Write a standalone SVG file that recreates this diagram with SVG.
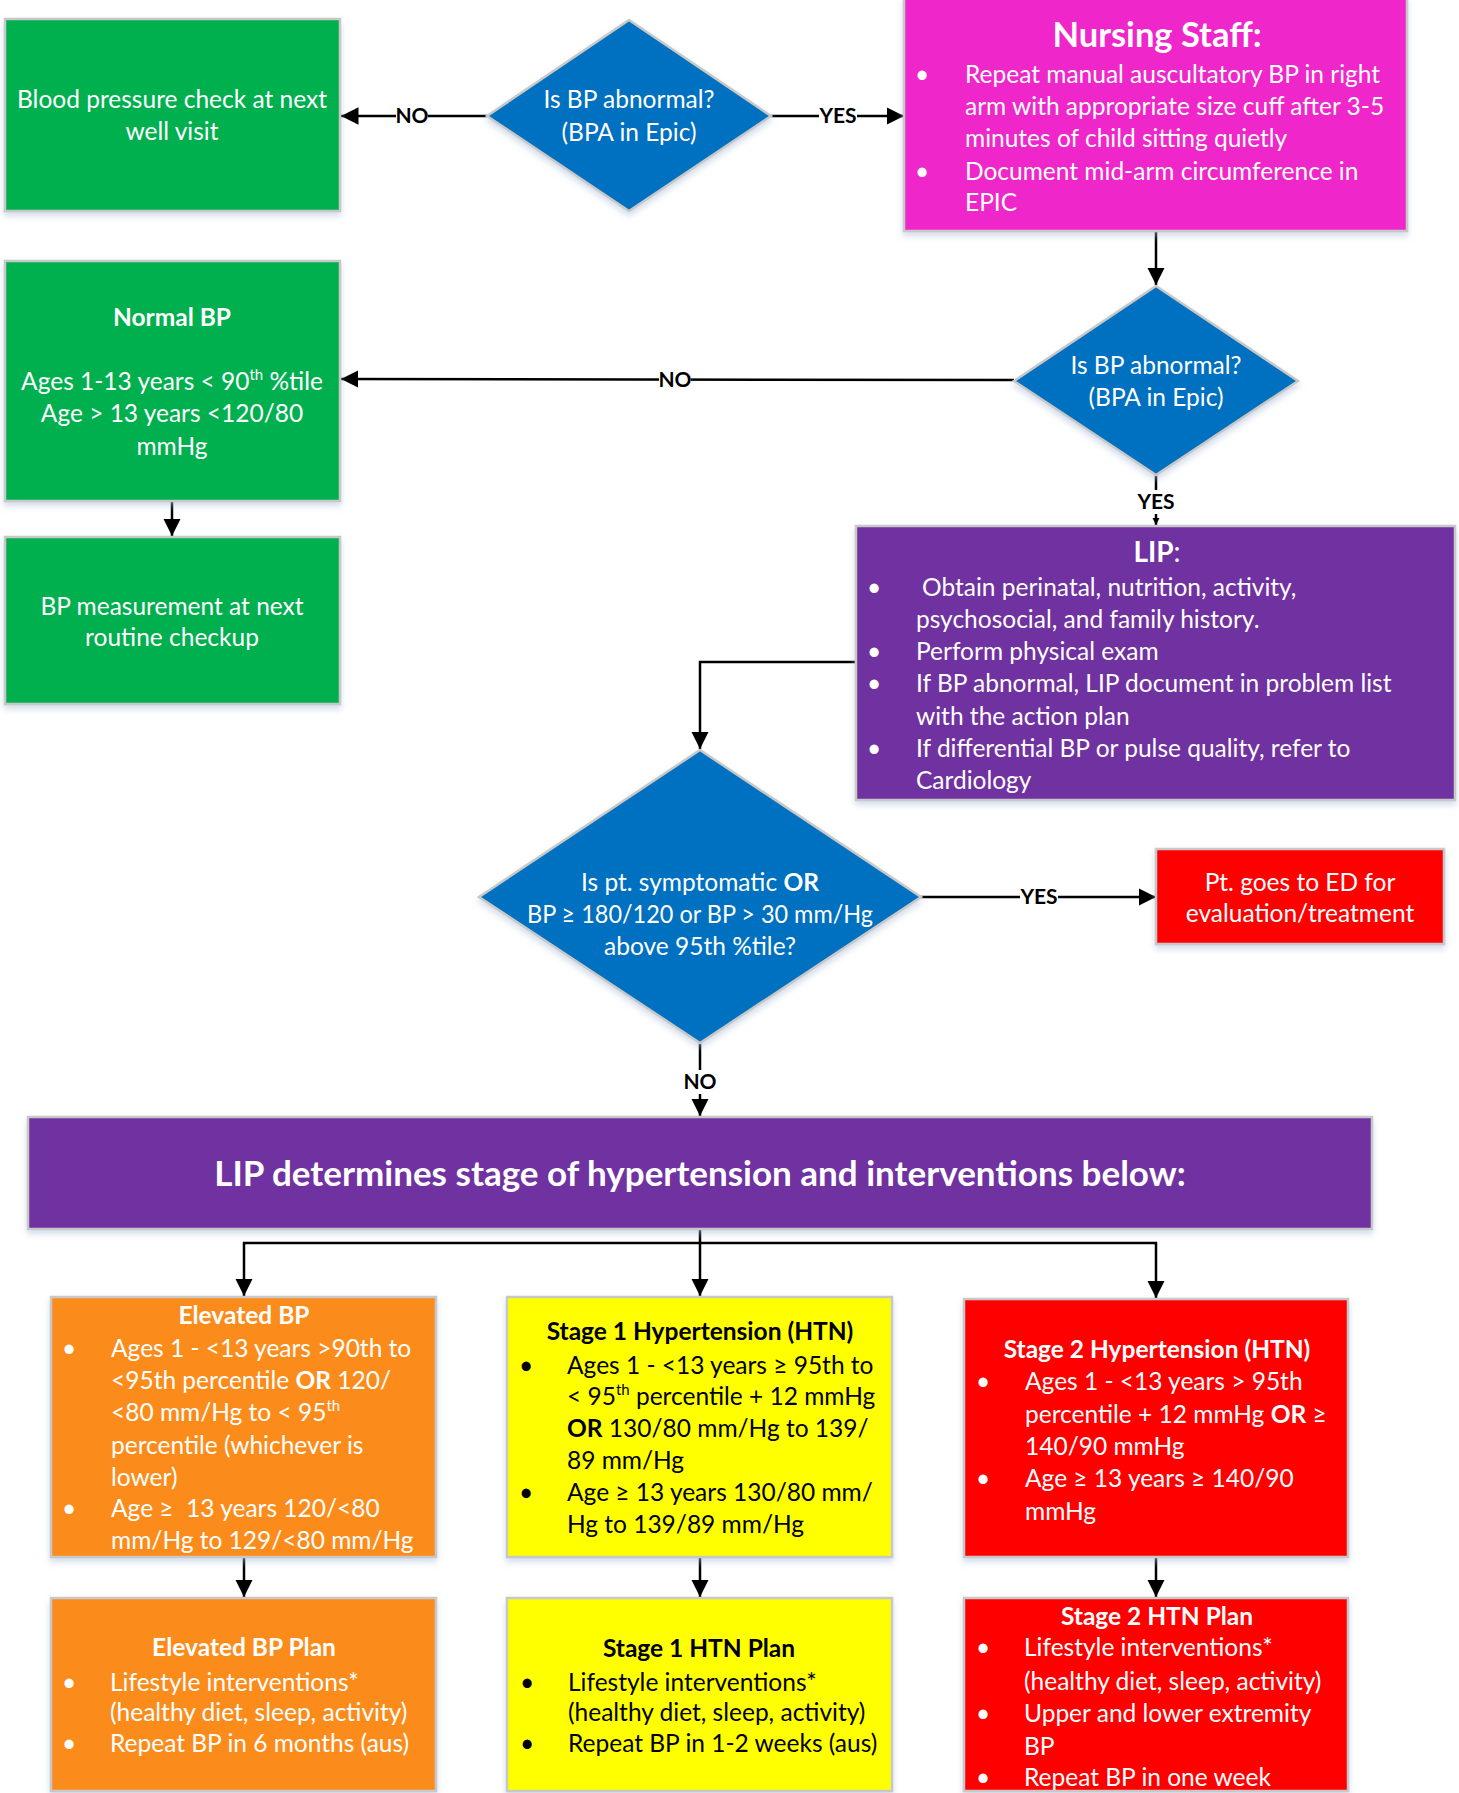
<svg xmlns="http://www.w3.org/2000/svg" width="1459" height="1793" viewBox="0 0 1459 1793">
<defs>
<style>
.t{font-family:Lato,"Liberation Sans",sans-serif;font-size:24.5px;fill:#fff}
.b{font-weight:bold}
.k{fill:#000}
.c{text-anchor:middle}
.sup{font-size:15px}
.big{font-size:34.5px}
.ban{font-size:35px}
.lipt{font-size:28px}
.lbl{font-family:Lato,"Liberation Sans",sans-serif;font-weight:bold;font-size:21px;fill:#000;text-anchor:middle}
.box{stroke:#c8c8c8;stroke-width:2.5;filter:url(#sh)}
.ln{stroke:#000;stroke-width:2.5;fill:none}
.bg{fill:#fff}
</style>
<filter id="sh" x="-5%" y="-5%" width="110%" height="115%">
<feDropShadow dx="0" dy="4" stdDeviation="3" flood-color="#a9bcd8" flood-opacity="0.5"/>
</filter>
<marker id="ah" viewBox="0 0 10 10" refX="10" refY="5" markerWidth="7" markerHeight="7" markerUnits="strokeWidth" orient="auto">
<path d="M0,0 L10,5 L0,10 z" fill="#000"/>
</marker>
<marker id="ahs" viewBox="0 0 10 10" refX="10" refY="5" markerWidth="3" markerHeight="3" markerUnits="strokeWidth" orient="auto">
<path d="M0,0 L10,5 L0,10 z" fill="#000"/>
</marker>
</defs>
<rect width="1459" height="1793" fill="#fff"/>

<g id="connectors">
<line class="ln" x1="487" y1="116" x2="341" y2="116" marker-end="url(#ah)"/>
<line class="ln" x1="771" y1="116" x2="904" y2="116" marker-end="url(#ah)"/>
<line class="ln" x1="1156" y1="231" x2="1156" y2="285" marker-end="url(#ah)"/>
<line class="ln" x1="1014" y1="380" x2="341" y2="379" marker-end="url(#ah)"/>
<line class="ln" x1="172" y1="501" x2="172" y2="536" marker-end="url(#ah)"/>
<line class="ln" x1="1156" y1="475" x2="1156" y2="525" marker-end="url(#ahs)"/>
<polyline class="ln" points="856,662 700,662 700,749" marker-end="url(#ah)"/>
<line class="ln" x1="921" y1="897" x2="1156" y2="897" marker-end="url(#ah)"/>
<line class="ln" x1="700" y1="1043" x2="700" y2="1116" marker-end="url(#ah)"/>
<line class="ln" x1="700" y1="1229" x2="700" y2="1296" marker-end="url(#ah)"/>
<polyline class="ln" points="700,1243 244,1243 244,1296" marker-end="url(#ah)"/>
<polyline class="ln" points="700,1243 1156,1243 1156,1298" marker-end="url(#ah)"/>
<line class="ln" x1="244" y1="1557" x2="244" y2="1597" marker-end="url(#ah)"/>
<line class="ln" x1="700" y1="1557" x2="700" y2="1597" marker-end="url(#ah)"/>
<line class="ln" x1="1156" y1="1558" x2="1156" y2="1597" marker-end="url(#ah)"/>
<rect class="bg" x="396" y="104" width="32" height="22"/>
<text class="lbl" x="412" y="123">NO</text>
<rect class="bg" x="819" y="104" width="38" height="22"/>
<text class="lbl" x="838" y="123">YES</text>
<rect class="bg" x="659" y="368" width="32" height="22"/>
<text class="lbl" x="675" y="387">NO</text>
<rect class="bg" x="1137" y="490" width="38" height="24"/>
<text class="lbl" x="1156" y="509">YES</text>
<rect class="bg" x="1020" y="885" width="38" height="22"/>
<text class="lbl" x="1039" y="904">YES</text>
<rect class="bg" x="684" y="1070" width="32" height="24"/>
<text class="lbl" x="700" y="1089">NO</text>
</g>

<g id="n-well">
<rect class="box" x="5" y="19" width="335" height="192" fill="#00B050"/>
<text class="t c" x="172" y="108">Blood pressure check at next</text>
<text class="t c" x="172" y="140">well visit</text>
</g>

<g id="n-dec1">
<polygon class="box" points="629,20 771,116 629,211 487,116" fill="#0070C0"/>
<text class="t c" x="629" y="108">Is BP abnormal?</text>
<text class="t c" x="629" y="141">(BPA in Epic)</text>
</g>

<g id="n-nursing">
<rect class="box" x="904" y="-2" width="503" height="233" fill="#EF27C9"/>
<text class="t b c big" x="1157" y="47">Nursing Staff:</text>
<text class="t" x="915" y="83">•</text>
<text class="t" x="965" y="83">Repeat manual auscultatory BP in right</text>
<text class="t" x="965" y="115">arm with appropriate size cuff after 3-5</text>
<text class="t" x="965" y="147">minutes of child sitting quietly</text>
<text class="t" x="915" y="180">•</text>
<text class="t" x="965" y="180">Document mid-arm circumference in</text>
<text class="t" x="965" y="211">EPIC</text>
</g>

<g id="n-dec2">
<polygon class="box" points="1156,286 1298,381 1156,475 1014,381" fill="#0070C0"/>
<text class="t c" x="1156" y="374">Is BP abnormal?</text>
<text class="t c" x="1156" y="406">(BPA in Epic)</text>
</g>

<g id="n-normal">
<rect class="box" x="5" y="261" width="335" height="240" fill="#00B050"/>
<text class="t b c" x="172" y="326">Normal BP</text>
<text class="t c" x="172" y="390">Ages 1-13 years &lt; 90<tspan class="sup" dy="-10">th</tspan><tspan dy="10"> %tile</tspan></text>
<text class="t c" x="172" y="422">Age &gt; 13 years &lt;120/80</text>
<text class="t c" x="172" y="455">mmHg</text>
</g>

<g id="n-routine">
<rect class="box" x="5" y="537" width="335" height="167" fill="#00B050"/>
<text class="t c" x="172" y="615">BP measurement at next</text>
<text class="t c" x="172" y="646">routine checkup</text>
</g>

<g id="n-lip">
<rect class="box" x="856" y="526" width="599" height="274" fill="#7030A0"/>
<text class="t c lipt" x="1157" y="562"><tspan font-weight="bold">LIP</tspan>:</text>
<text class="t" x="867" y="596">•</text>
<text class="t" x="922" y="596">Obtain perinatal, nutrition, activity,</text>
<text class="t" x="916" y="628">psychosocial, and family history.</text>
<text class="t" x="867" y="660">•</text>
<text class="t" x="916" y="660">Perform physical exam</text>
<text class="t" x="867" y="692">•</text>
<text class="t" x="916" y="692">If BP abnormal, LIP document in problem list</text>
<text class="t" x="916" y="725">with the action plan</text>
<text class="t" x="867" y="757">•</text>
<text class="t" x="916" y="757">If differential BP or pulse quality, refer to</text>
<text class="t" x="916" y="789">Cardiology</text>
</g>

<g id="n-dec3">
<polygon class="box" points="700,750 921,897 700,1043 479,897" fill="#0070C0"/>
<text class="t c" x="700" y="891">Is pt. symptomatic <tspan font-weight="bold">OR</tspan></text>
<text class="t c" x="700" y="923" textLength="346" lengthAdjust="spacingAndGlyphs">BP ≥ 180/120 or BP &gt; 30 mm/Hg</text>
<text class="t c" x="700" y="955">above 95th %tile?</text>
</g>

<g id="n-ed">
<rect class="box" x="1156" y="849" width="288" height="95" fill="#FF0000"/>
<text class="t c" x="1300" y="891">Pt. goes to ED for</text>
<text class="t c" x="1300" y="922">evaluation/treatment</text>
</g>

<g id="n-stage">
<rect class="box" x="28" y="1117" width="1344" height="112" fill="#7030A0"/>
<text class="t b c ban" x="700" y="1186">LIP determines stage of hypertension and interventions below:</text>
</g>

<g id="n-elevated">
<rect class="box" x="51" y="1297" width="385" height="260" fill="#FB8C1F"/>
<text class="t b c" x="244" y="1324">Elevated BP</text>
<text class="t" x="62" y="1357">•</text>
<text class="t" x="111" y="1357">Ages 1 - &lt;13 years &gt;90th to</text>
<text class="t" x="111" y="1389">&lt;95th percentile <tspan font-weight="bold">OR</tspan> 120/</text>
<text class="t" x="111" y="1421">&lt;80 mm/Hg to &lt; 95<tspan class="sup" dy="-10">th</tspan></text>
<text class="t" x="111" y="1454">percentile (whichever is</text>
<text class="t" x="111" y="1486">lower)</text>
<text class="t" x="62" y="1517">•</text>
<text class="t" x="111" y="1517">Age ≥&#160; 13 years 120/&lt;80</text>
<text class="t" x="111" y="1549">mm/Hg to 129/&lt;80 mm/Hg</text>
</g>

<g id="n-stage1">
<rect class="box" x="507" y="1297" width="385" height="260" fill="#FFFF00"/>
<text class="t b c k" x="700" y="1340">Stage 1 Hypertension (HTN)</text>
<text class="t k" x="519" y="1374">•</text>
<text class="t k" x="567" y="1374">Ages 1 - &lt;13 years ≥ 95th to</text>
<text class="t k" x="567" y="1405">&lt; 95<tspan class="sup" dy="-10">th</tspan><tspan dy="10"> percentile + 12 mmHg</tspan></text>
<text class="t k" x="567" y="1437"><tspan font-weight="bold">OR</tspan> 130/80 mm/Hg to 139/</text>
<text class="t k" x="567" y="1469">89 mm/Hg</text>
<text class="t k" x="519" y="1501">•</text>
<text class="t k" x="567" y="1501">Age ≥ 13 years 130/80 mm/</text>
<text class="t k" x="567" y="1533">Hg to 139/89 mm/Hg</text>
</g>

<g id="n-stage2">
<rect class="box" x="964" y="1299" width="384" height="258" fill="#FF0000"/>
<text class="t b c" x="1157" y="1358">Stage 2 Hypertension (HTN)</text>
<text class="t" x="976" y="1390">•</text>
<text class="t" x="1025" y="1390">Ages 1 - &lt;13 years &gt; 95th</text>
<text class="t" x="1025" y="1423">percentile + 12 mmHg <tspan font-weight="bold">OR</tspan> ≥</text>
<text class="t" x="1025" y="1455">140/90 mmHg</text>
<text class="t" x="976" y="1487">•</text>
<text class="t" x="1025" y="1487">Age ≥ 13 years ≥ 140/90</text>
<text class="t" x="1025" y="1520">mmHg</text>
</g>

<g id="n-elevated-plan">
<rect class="box" x="51" y="1598" width="385" height="193" fill="#FB8C1F"/>
<text class="t b c" x="244" y="1656">Elevated BP Plan</text>
<text class="t" x="62" y="1691">•</text>
<text class="t" x="110" y="1691">Lifestyle interventions*</text>
<text class="t" x="110" y="1721">(healthy diet, sleep, activity)</text>
<text class="t" x="62" y="1752">•</text>
<text class="t" x="110" y="1752">Repeat BP in 6 months (aus)</text>
</g>

<g id="n-stage1-plan">
<rect class="box" x="507" y="1598" width="385" height="193" fill="#FFFF00"/>
<text class="t b c k" x="699" y="1657">Stage 1 HTN Plan</text>
<text class="t k" x="520" y="1691">•</text>
<text class="t k" x="568" y="1691">Lifestyle interventions*</text>
<text class="t k" x="568" y="1721">(healthy diet, sleep, activity)</text>
<text class="t k" x="520" y="1752">•</text>
<text class="t k" x="568" y="1752">Repeat BP in 1-2 weeks (aus)</text>
</g>

<g id="n-stage2-plan">
<rect class="box" x="964" y="1598" width="384" height="193" fill="#FF0000"/>
<text class="t b c" x="1157" y="1625">Stage 2 HTN Plan</text>
<text class="t" x="976" y="1656">•</text>
<text class="t" x="1024" y="1656">Lifestyle interventions*</text>
<text class="t" x="1024" y="1690">(healthy diet, sleep, activity)</text>
<text class="t" x="976" y="1722">•</text>
<text class="t" x="1024" y="1722">Upper and lower extremity</text>
<text class="t" x="1024" y="1755">BP</text>
<text class="t" x="976" y="1786">•</text>
<text class="t" x="1024" y="1786">Repeat BP in one week</text>
</g>
</svg>
